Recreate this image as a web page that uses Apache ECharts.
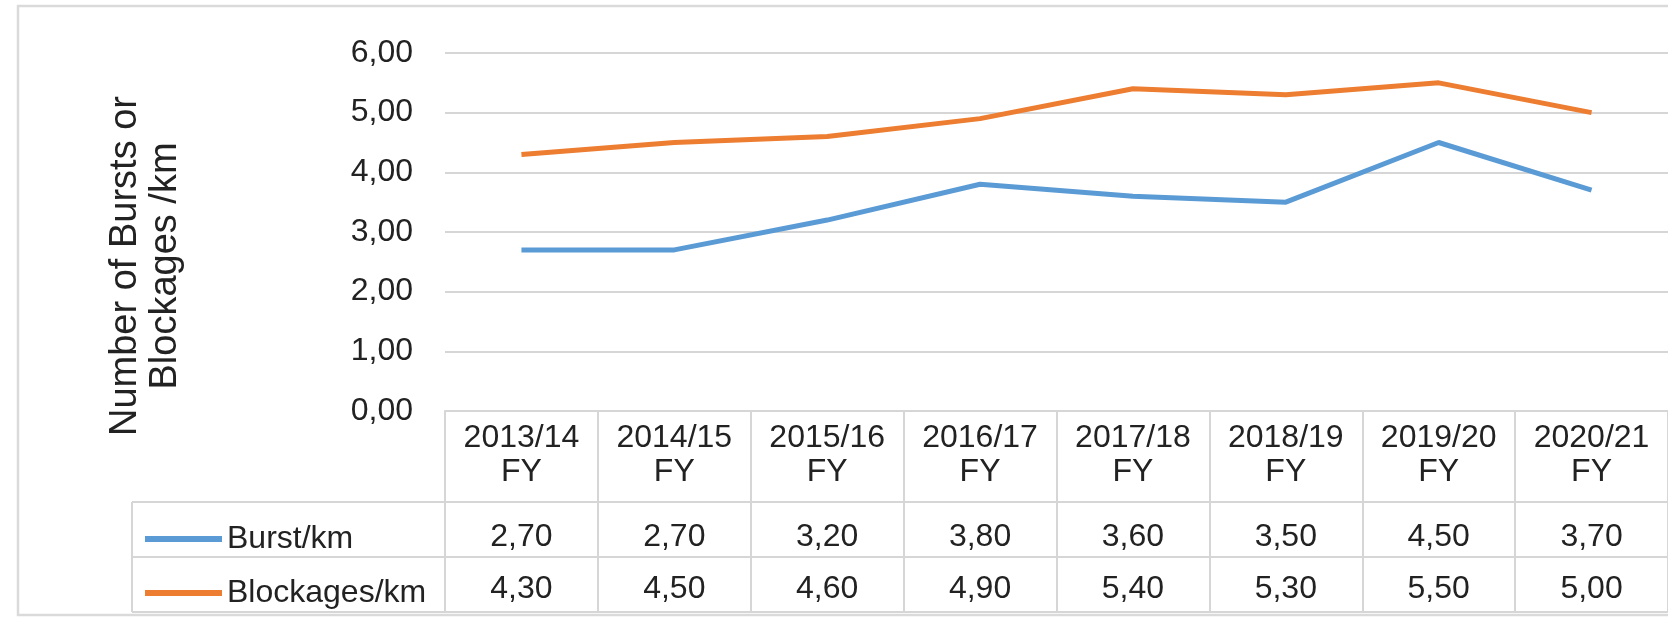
<!DOCTYPE html>
<html>
<head>
<meta charset="utf-8">
<script src="https://cdn.jsdelivr.net/npm/echarts@6/dist/echarts.min.js"></script>
<style>
  html, body { margin: 0; padding: 0; background: #fff; }
  #chart { width: 1668px; height: 617px; }
</style>
</head>
<body>
<div id="chart"></div>
<script>
const years = ["2013/14", "2014/15", "2015/16", "2016/17", "2017/18", "2018/19", "2019/20", "2020/21"];
const burstPerKm = [2.7, 2.7, 3.2, 3.8, 3.6, 3.5, 4.5, 3.7];
const blockagesPerKm = [4.3, 4.5, 4.6, 4.9, 5.4, 5.3, 5.5, 5.0];
const seriesNames = ["Burst/km", "Blockages/km"];
const yTitle = "Number of Bursts or\nBlockages /km";

const font = "Liberation Sans, Arial, Helvetica, sans-serif";
const textColor = "#222";
const lineColor = "#d6d6d6";
const comma = (v) => v.toFixed(2).replace(".", ",");

const myChart = echarts.init(document.getElementById("chart"));

// one category axis per table row, sharing the grid, labels = row values
const rowAxis = (values, offset, margin) => ({
  type: "category",
  data: years,
  position: "bottom",
  offset: offset,
  boundaryGap: true,
  axisLine: { show: true, lineStyle: { color: lineColor, width: 2 } },
  axisTick: { show: false },
  axisLabel: {
    margin: margin,
    fontSize: 32,
    lineHeight: 32,
    fontFamily: font,
    color: textColor,
    interval: 0,
    formatter(val, idx) {
      return comma(values[idx]);
    },
  },
});

myChart.setOption({
  animation: false,
  textStyle: { fontFamily: font },
  grid: { left: 445, top: 53, width: 1240, height: 358 },
  legend: {
    orient: "vertical",
    left: 140,
    top: 517,
    icon: "rect",
    itemWidth: 77,
    itemHeight: 6,
    itemGap: 20,
    data: seriesNames,
    textStyle: { fontSize: 32, lineHeight: 34, color: textColor, fontFamily: font },
    selectedMode: false,
  },
  xAxis: [
    {
      type: "category",
      data: years,
      position: "bottom",
      boundaryGap: true,
      axisLine: { show: true, lineStyle: { color: lineColor, width: 2 } },
      axisTick: { show: true, length: 201, lineStyle: { color: lineColor, width: 2 } },
      axisLabel: {
        margin: 10,
        fontSize: 32,
        lineHeight: 34,
        fontFamily: font,
        color: textColor,
        interval: 0,
        formatter(val) {
          return val + "\nFY";
        },
      },
    },
    rowAxis(burstPerKm, 91, 19),
    rowAxis(blockagesPerKm, 146, 16),
  ],
  yAxis: {
    type: "value",
    min: 0,
    max: 6,
    interval: 1,
    axisLine: { show: false },
    axisTick: { show: false },
    axisLabel: {
      margin: 32,
      fontSize: 32,
      fontFamily: font,
      color: textColor,
      formatter: comma,
    },
    splitLine: { lineStyle: { color: lineColor, width: 2 } },
  },
  graphic: [
    {
      type: "rect",
      shape: { x: 18, y: 6, width: 1700, height: 609 },
      style: { fill: "none", stroke: "#dadada", lineWidth: 2.5 },
      silent: true,
    },
    {
      type: "text",
      x: 146,
      y: 266,
      rotation: Math.PI / 2,
      style: {
        text: yTitle,
        font: "38px " + font,
        fill: textColor,
        align: "center",
        verticalAlign: "middle",
        lineHeight: 40,
      },
    },
    // table frame for the row-label column and the bottom edge
    { type: "line", shape: { x1: 132, y1: 502, x2: 445, y2: 502 }, style: { stroke: lineColor, lineWidth: 2 } },
    { type: "line", shape: { x1: 132, y1: 557, x2: 445, y2: 557 }, style: { stroke: lineColor, lineWidth: 2 } },
    { type: "line", shape: { x1: 132, y1: 612, x2: 1668, y2: 612 }, style: { stroke: lineColor, lineWidth: 2 } },
    { type: "line", shape: { x1: 132, y1: 502, x2: 132, y2: 612 }, style: { stroke: lineColor, lineWidth: 2 } },
  ],
  series: [
    {
      name: seriesNames[0],
      type: "line",
      data: burstPerKm,
      symbol: "none",
      lineStyle: { width: 5, color: "#5b9bd5" },
      itemStyle: { color: "#5b9bd5" },
    },
    {
      name: seriesNames[1],
      type: "line",
      data: blockagesPerKm,
      symbol: "none",
      lineStyle: { width: 5, color: "#ed7d31" },
      itemStyle: { color: "#ed7d31" },
    },
  ],
});
</script>
</body>
</html>
